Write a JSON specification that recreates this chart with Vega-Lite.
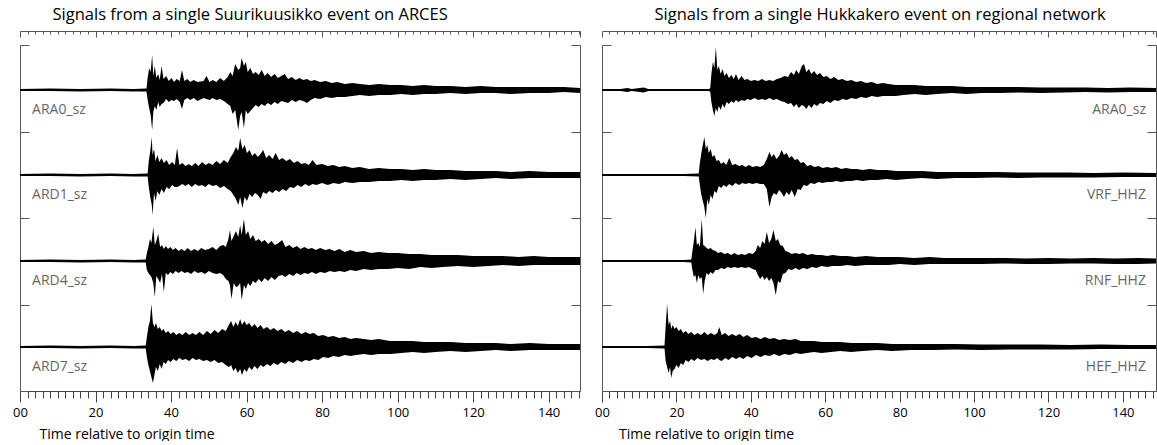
{
"$schema": "https://vega.github.io/schema/vega-lite/v6.json",
"padding": {"left": 12, "top": 7, "right": 0, "bottom": 0},
"background": "white",
"config": {"view": {"stroke": null}, "font": "Open Sans", "axis": {"grid": false}},
"spacing": 13,
"datasets": {
"labL": [{"n":"ARA0_sz","b":301},{"n":"ARD1_sz","b":216},{"n":"ARD4_sz","b":130},{"n":"ARD7_sz","b":44}],
"labR": [{"n":"ARA0_sz","b":301},{"n":"VRF_HHZ","b":216},{"n":"RNF_HHZ","b":130},{"n":"HEF_HHZ","b":44}],
"L": [
{"s":1,"t":0,"h":302,"l":300},{"s":1,"t":8,"h":302.5,"l":300},{"s":1,"t":16,"h":302,"l":299.5},{"s":1,"t":24,"h":302.5,"l":300},{"s":1,"t":30,"h":302,"l":299.5},{"s":1,"t":33.5,"h":302.5,"l":299.5},
{"s":1,"t":33.8,"h":313,"l":291},{"s":1,"t":34.2,"h":323,"l":283},{"s":1,"t":34.6,"h":319,"l":276},{"s":1,"t":35.0,"h":336,"l":261},{"s":1,"t":35.3,"h":315,"l":279},{"s":1,"t":35.7,"h":325,"l":285},{"s":1,"t":36.1,"h":313,"l":281},{"s":1,"t":36.6,"h":317,"l":289},{"s":1,"t":37.0,"h":311,"l":284},{"s":1,"t":37.5,"h":325,"l":287},{"s":1,"t":38.0,"h":312,"l":288},{"s":1,"t":38.7,"h":315,"l":292},{"s":1,"t":39.4,"h":310,"l":289},{"s":1,"t":40.1,"h":313,"l":291},{"s":1,"t":40.8,"h":309,"l":290},{"s":1,"t":41.5,"h":312,"l":292},{"s":1,"t":42.3,"h":310,"l":289},{"s":1,"t":42.9,"h":321,"l":282},{"s":1,"t":43.5,"h":310,"l":291},{"s":1,"t":44.3,"h":312,"l":293},{"s":1,"t":45.1,"h":309,"l":291},{"s":1,"t":46.0,"h":311,"l":293},{"s":1,"t":47.0,"h":309,"l":290},{"s":1,"t":48.6,"h":310,"l":293},{"s":1,"t":49.4,"h":315,"l":292},{"s":1,"t":50.2,"h":309,"l":291},{"s":1,"t":51.0,"h":311,"l":293},{"s":1,"t":52.0,"h":309,"l":291},{"s":1,"t":53.0,"h":313,"l":292},{"s":1,"t":54.0,"h":310,"l":290},{"s":1,"t":55.0,"h":314,"l":287},{"s":1,"t":55.7,"h":319,"l":285},{"s":1,"t":56.3,"h":315,"l":277},{"s":1,"t":57.0,"h":327,"l":281},{"s":1,"t":57.8,"h":321,"l":261},{"s":1,"t":58.3,"h":323,"l":275},{"s":1,"t":58.7,"h":333,"l":279},{"s":1,"t":59.3,"h":325,"l":263},{"s":1,"t":59.8,"h":329,"l":281},{"s":1,"t":60.3,"h":319,"l":277},{"s":1,"t":61.0,"h":323,"l":280},{"s":1,"t":61.7,"h":317,"l":283},{"s":1,"t":62.4,"h":319,"l":286},{"s":1,"t":63.2,"h":316,"l":284},{"s":1,"t":64.0,"h":321,"l":287},{"s":1,"t":64.8,"h":315,"l":285},{"s":1,"t":65.6,"h":318,"l":288},{"s":1,"t":66.5,"h":314,"l":286},{"s":1,"t":67.4,"h":317,"l":289},{"s":1,"t":68.3,"h":313,"l":287},{"s":1,"t":69.2,"h":315,"l":290},{"s":1,"t":70.1,"h":317,"l":289},{"s":1,"t":71.0,"h":312,"l":288},{"s":1,"t":72.0,"h":314,"l":291},{"s":1,"t":73.0,"h":311,"l":289},{"s":1,"t":74.0,"h":313,"l":291},{"s":1,"t":75.0,"h":311,"l":290},{"s":1,"t":76.0,"h":312,"l":288},{"s":1,"t":77.0,"h":310,"l":291},{"s":1,"t":78.0,"h":311,"l":293},{"s":1,"t":79.5,"h":309,"l":292},{"s":1,"t":81.0,"h":310,"l":294},{"s":1,"t":82.5,"h":308,"l":293},{"s":1,"t":84.0,"h":309,"l":294},{"s":1,"t":86.0,"h":307,"l":294},{"s":1,"t":88.0,"h":308,"l":295},{"s":1,"t":90.0,"h":307,"l":296},{"s":1,"t":92.5,"h":306,"l":295},{"s":1,"t":95.0,"h":307,"l":296},{"s":1,"t":98.0,"h":306,"l":296},{"s":1,"t":101,"h":306,"l":297},{"s":1,"t":104,"h":305,"l":296},{"s":1,"t":107,"h":306,"l":297},{"s":1,"t":110,"h":305,"l":297},{"s":1,"t":114,"h":305,"l":298},{"s":1,"t":118,"h":304,"l":297},{"s":1,"t":122,"h":305,"l":298},{"s":1,"t":126,"h":304,"l":298},{"s":1,"t":130,"h":304,"l":297},{"s":1,"t":135,"h":304,"l":298},{"s":1,"t":140,"h":304,"l":298},{"s":1,"t":144,"h":304,"l":299},{"s":1,"t":148.3,"h":303,"l":298},
{"s":2,"t":0,"h":217,"l":215},{"s":2,"t":8,"h":217.5,"l":215},{"s":2,"t":16,"h":217,"l":214.5},{"s":2,"t":24,"h":217.5,"l":215},{"s":2,"t":30,"h":217,"l":214.5},{"s":2,"t":33.8,"h":217.5,"l":214.5},
{"s":2,"t":34.1,"h":230,"l":204},{"s":2,"t":34.5,"h":240,"l":194},{"s":2,"t":34.9,"h":254,"l":186},{"s":2,"t":35.1,"h":236,"l":176},{"s":2,"t":35.5,"h":242,"l":198},{"s":2,"t":35.9,"h":230,"l":190},{"s":2,"t":36.4,"h":236,"l":200},{"s":2,"t":36.9,"h":229,"l":196},{"s":2,"t":37.5,"h":233,"l":202},{"s":2,"t":38.1,"h":228,"l":198},{"s":2,"t":38.8,"h":231,"l":204},{"s":2,"t":39.5,"h":226,"l":202},{"s":2,"t":40.3,"h":229,"l":206},{"s":2,"t":41.0,"h":226,"l":204},{"s":2,"t":41.6,"h":243,"l":204},{"s":2,"t":42.2,"h":226,"l":205},{"s":2,"t":43.0,"h":228,"l":207},{"s":2,"t":43.8,"h":225,"l":205},{"s":2,"t":44.6,"h":227,"l":207},{"s":2,"t":45.5,"h":225,"l":204},{"s":2,"t":46.4,"h":228,"l":207},{"s":2,"t":47.3,"h":225,"l":205},{"s":2,"t":48.2,"h":229,"l":206},{"s":2,"t":49.1,"h":226,"l":204},{"s":2,"t":50.0,"h":228,"l":207},{"s":2,"t":51.0,"h":226,"l":205},{"s":2,"t":52.0,"h":230,"l":206},{"s":2,"t":53.0,"h":227,"l":203},{"s":2,"t":54.0,"h":231,"l":205},{"s":2,"t":55.0,"h":228,"l":202},{"s":2,"t":55.8,"h":234,"l":200},{"s":2,"t":56.5,"h":238,"l":196},{"s":2,"t":57.2,"h":244,"l":192},{"s":2,"t":57.8,"h":240,"l":186},{"s":2,"t":58.3,"h":253,"l":194},{"s":2,"t":58.9,"h":242,"l":183},{"s":2,"t":59.5,"h":246,"l":194},{"s":2,"t":60.1,"h":238,"l":190},{"s":2,"t":60.8,"h":241,"l":197},{"s":2,"t":61.5,"h":235,"l":194},{"s":2,"t":62.2,"h":238,"l":198},{"s":2,"t":63.0,"h":234,"l":196},{"s":2,"t":63.7,"h":237,"l":192},{"s":2,"t":64.4,"h":241,"l":199},{"s":2,"t":65.2,"h":233,"l":197},{"s":2,"t":66.0,"h":236,"l":200},{"s":2,"t":66.9,"h":232,"l":198},{"s":2,"t":67.7,"h":238,"l":201},{"s":2,"t":68.6,"h":231,"l":199},{"s":2,"t":69.5,"h":233,"l":202},{"s":2,"t":70.5,"h":230,"l":200},{"s":2,"t":71.5,"h":232,"l":204},{"s":2,"t":72.5,"h":228,"l":203},{"s":2,"t":73.5,"h":230,"l":206},{"s":2,"t":74.5,"h":227,"l":204},{"s":2,"t":75.5,"h":228,"l":207},{"s":2,"t":76.5,"h":226,"l":205},{"s":2,"t":77.5,"h":231,"l":207},{"s":2,"t":78.5,"h":226,"l":206},{"s":2,"t":80.0,"h":227,"l":208},{"s":2,"t":81.5,"h":225,"l":206},{"s":2,"t":83.0,"h":226,"l":208},{"s":2,"t":84.5,"h":224,"l":207},{"s":2,"t":86.0,"h":225,"l":209},{"s":2,"t":88.0,"h":223,"l":208},{"s":2,"t":90.0,"h":224,"l":209},{"s":2,"t":92.5,"h":222,"l":209},{"s":2,"t":95.0,"h":223,"l":210},{"s":2,"t":98.0,"h":222,"l":210},{"s":2,"t":101,"h":222,"l":211},{"s":2,"t":104,"h":221,"l":210},{"s":2,"t":107,"h":222,"l":211},{"s":2,"t":110,"h":221,"l":211},{"s":2,"t":114,"h":221,"l":212},{"s":2,"t":118,"h":220,"l":211},{"s":2,"t":122,"h":220,"l":212},{"s":2,"t":126,"h":220,"l":213},{"s":2,"t":130,"h":219,"l":212},{"s":2,"t":135,"h":220,"l":213},{"s":2,"t":140,"h":219,"l":213},{"s":2,"t":144,"h":219,"l":213},{"s":2,"t":148.3,"h":219,"l":213},
{"s":3,"t":0,"h":131,"l":129},{"s":3,"t":8,"h":131.5,"l":129},{"s":3,"t":16,"h":131,"l":128.5},{"s":3,"t":24,"h":131.5,"l":129},{"s":3,"t":30,"h":131,"l":128.5},{"s":3,"t":33.3,"h":131.5,"l":128.5},
{"s":3,"t":33.6,"h":138,"l":121},{"s":3,"t":34.0,"h":144,"l":118},{"s":3,"t":34.4,"h":152,"l":116},{"s":3,"t":34.8,"h":148,"l":114},{"s":3,"t":35.3,"h":164,"l":108},{"s":3,"t":35.7,"h":146,"l":94},{"s":3,"t":36.1,"h":150,"l":115},{"s":3,"t":36.6,"h":157,"l":112},{"s":3,"t":37.1,"h":144,"l":108},{"s":3,"t":37.6,"h":146,"l":117},{"s":3,"t":38.1,"h":142,"l":99},{"s":3,"t":38.6,"h":145,"l":118},{"s":3,"t":39.2,"h":142,"l":116},{"s":3,"t":39.8,"h":144,"l":119},{"s":3,"t":40.5,"h":141,"l":117},{"s":3,"t":41.2,"h":143,"l":120},{"s":3,"t":42.0,"h":140,"l":118},{"s":3,"t":42.8,"h":142,"l":120},{"s":3,"t":43.6,"h":140,"l":118},{"s":3,"t":44.4,"h":143,"l":119},{"s":3,"t":45.3,"h":140,"l":117},{"s":3,"t":46.2,"h":142,"l":120},{"s":3,"t":47.1,"h":140,"l":118},{"s":3,"t":48.0,"h":143,"l":119},{"s":3,"t":49.0,"h":141,"l":117},{"s":3,"t":50.0,"h":142,"l":120},{"s":3,"t":51.0,"h":144,"l":118},{"s":3,"t":52.0,"h":141,"l":117},{"s":3,"t":53.0,"h":145,"l":118},{"s":3,"t":53.8,"h":146,"l":116},{"s":3,"t":54.5,"h":144,"l":112},{"s":3,"t":55.2,"h":152,"l":110},{"s":3,"t":55.6,"h":161,"l":106},{"s":3,"t":56.0,"h":150,"l":92},{"s":3,"t":56.6,"h":155,"l":108},{"s":3,"t":57.2,"h":160,"l":104},{"s":3,"t":57.8,"h":154,"l":105},{"s":3,"t":58.3,"h":166,"l":108},{"s":3,"t":58.7,"h":156,"l":91},{"s":3,"t":59.3,"h":172,"l":106},{"s":3,"t":59.8,"h":156,"l":102},{"s":3,"t":60.4,"h":160,"l":108},{"s":3,"t":61.0,"h":152,"l":105},{"s":3,"t":61.7,"h":156,"l":110},{"s":3,"t":62.4,"h":150,"l":108},{"s":3,"t":63.2,"h":152,"l":112},{"s":3,"t":64.0,"h":149,"l":109},{"s":3,"t":64.8,"h":151,"l":113},{"s":3,"t":65.7,"h":147,"l":110},{"s":3,"t":66.6,"h":150,"l":114},{"s":3,"t":67.5,"h":146,"l":111},{"s":3,"t":68.5,"h":148,"l":115},{"s":3,"t":69.4,"h":151,"l":116},{"s":3,"t":70.3,"h":144,"l":114},{"s":3,"t":71.3,"h":146,"l":117},{"s":3,"t":72.3,"h":143,"l":115},{"s":3,"t":73.3,"h":145,"l":118},{"s":3,"t":74.3,"h":142,"l":116},{"s":3,"t":75.3,"h":144,"l":118},{"s":3,"t":76.3,"h":142,"l":117},{"s":3,"t":77.3,"h":143,"l":119},{"s":3,"t":78.3,"h":141,"l":117},{"s":3,"t":79.5,"h":143,"l":119},{"s":3,"t":80.8,"h":141,"l":118},{"s":3,"t":82.0,"h":142,"l":120},{"s":3,"t":83.3,"h":140,"l":119},{"s":3,"t":84.6,"h":142,"l":120},{"s":3,"t":86.0,"h":139,"l":119},{"s":3,"t":87.5,"h":141,"l":121},{"s":3,"t":89.0,"h":139,"l":120},{"s":3,"t":91.0,"h":140,"l":122},{"s":3,"t":93.0,"h":138,"l":121},{"s":3,"t":95.0,"h":139,"l":122},{"s":3,"t":97.5,"h":138,"l":122},{"s":3,"t":100,"h":138,"l":123},{"s":3,"t":103,"h":137,"l":122},{"s":3,"t":106,"h":137,"l":124},{"s":3,"t":109,"h":136,"l":123},{"s":3,"t":112,"h":136,"l":124},{"s":3,"t":116,"h":136,"l":125},{"s":3,"t":120,"h":135,"l":124},{"s":3,"t":124,"h":135,"l":125},{"s":3,"t":128,"h":135,"l":126},{"s":3,"t":132,"h":134,"l":125},{"s":3,"t":136,"h":135,"l":126},{"s":3,"t":140,"h":134,"l":126},{"s":3,"t":144,"h":134,"l":126},{"s":3,"t":148.3,"h":134,"l":126},
{"s":4,"t":0,"h":45,"l":43},{"s":4,"t":8,"h":45.5,"l":43},{"s":4,"t":16,"h":45,"l":42.5},{"s":4,"t":24,"h":45.5,"l":43},{"s":4,"t":30,"h":45,"l":42.5},{"s":4,"t":33.3,"h":45.5,"l":42.5},
{"s":4,"t":33.6,"h":54,"l":34},{"s":4,"t":34.0,"h":64,"l":26},{"s":4,"t":34.4,"h":70,"l":20},{"s":4,"t":34.8,"h":87,"l":14},{"s":4,"t":35.2,"h":68,"l":8},{"s":4,"t":35.6,"h":64,"l":16},{"s":4,"t":36.0,"h":68,"l":24},{"s":4,"t":36.5,"h":62,"l":20},{"s":4,"t":37.0,"h":64,"l":27},{"s":4,"t":37.5,"h":60,"l":22},{"s":4,"t":38.0,"h":62,"l":29},{"s":4,"t":38.6,"h":58,"l":27},{"s":4,"t":39.2,"h":60,"l":31},{"s":4,"t":39.9,"h":57,"l":29},{"s":4,"t":40.6,"h":59,"l":32},{"s":4,"t":41.4,"h":56,"l":30},{"s":4,"t":42.2,"h":58,"l":33},{"s":4,"t":43.0,"h":56,"l":31},{"s":4,"t":43.9,"h":59,"l":32},{"s":4,"t":44.8,"h":56,"l":30},{"s":4,"t":45.7,"h":58,"l":33},{"s":4,"t":46.6,"h":56,"l":31},{"s":4,"t":47.5,"h":59,"l":32},{"s":4,"t":48.5,"h":56,"l":30},{"s":4,"t":49.5,"h":60,"l":31},{"s":4,"t":50.5,"h":57,"l":29},{"s":4,"t":51.5,"h":61,"l":31},{"s":4,"t":52.5,"h":58,"l":28},{"s":4,"t":53.5,"h":62,"l":29},{"s":4,"t":54.5,"h":60,"l":26},{"s":4,"t":55.3,"h":66,"l":24},{"s":4,"t":55.9,"h":70,"l":26},{"s":4,"t":56.5,"h":64,"l":20},{"s":4,"t":57.1,"h":69,"l":23},{"s":4,"t":57.7,"h":65,"l":18},{"s":4,"t":58.3,"h":72,"l":22},{"s":4,"t":58.8,"h":66,"l":16},{"s":4,"t":59.4,"h":70,"l":22},{"s":4,"t":60.0,"h":66,"l":19},{"s":4,"t":60.7,"h":68,"l":24},{"s":4,"t":61.4,"h":64,"l":21},{"s":4,"t":62.1,"h":67,"l":25},{"s":4,"t":62.9,"h":63,"l":22},{"s":4,"t":63.7,"h":66,"l":26},{"s":4,"t":64.5,"h":62,"l":24},{"s":4,"t":65.4,"h":64,"l":27},{"s":4,"t":66.3,"h":61,"l":25},{"s":4,"t":67.2,"h":63,"l":28},{"s":4,"t":68.2,"h":60,"l":26},{"s":4,"t":69.2,"h":62,"l":29},{"s":4,"t":70.2,"h":59,"l":27},{"s":4,"t":71.2,"h":61,"l":30},{"s":4,"t":72.3,"h":58,"l":28},{"s":4,"t":73.4,"h":60,"l":31},{"s":4,"t":74.5,"h":57,"l":29},{"s":4,"t":75.6,"h":59,"l":31},{"s":4,"t":76.7,"h":57,"l":30},{"s":4,"t":77.8,"h":58,"l":32},{"s":4,"t":79.0,"h":55,"l":31},{"s":4,"t":80.3,"h":56,"l":34},{"s":4,"t":81.6,"h":54,"l":33},{"s":4,"t":83.0,"h":55,"l":35},{"s":4,"t":84.5,"h":53,"l":34},{"s":4,"t":86.0,"h":54,"l":36},{"s":4,"t":87.5,"h":52,"l":35},{"s":4,"t":89.0,"h":53,"l":36},{"s":4,"t":91.0,"h":52,"l":37},{"s":4,"t":93.0,"h":51,"l":36},{"s":4,"t":95.0,"h":52,"l":37},{"s":4,"t":98.0,"h":50,"l":37},{"s":4,"t":101,"h":50,"l":38},{"s":4,"t":104,"h":50,"l":39},{"s":4,"t":107,"h":49,"l":38},{"s":4,"t":110,"h":49,"l":39},{"s":4,"t":114,"h":49,"l":40},{"s":4,"t":118,"h":48,"l":39},{"s":4,"t":122,"h":48,"l":40},{"s":4,"t":126,"h":48,"l":41},{"s":4,"t":130,"h":47,"l":40},{"s":4,"t":135,"h":48,"l":41},{"s":4,"t":140,"h":47,"l":41},{"s":4,"t":144,"h":47,"l":41},{"s":4,"t":148.3,"h":47,"l":41}
],
"R": [
{"s":1,"t":0,"h":302,"l":300},{"s":1,"t":5,"h":302,"l":300},{"s":1,"t":6.8,"h":303,"l":299},{"s":1,"t":8,"h":302,"l":300},{"s":1,"t":11.2,"h":303.5,"l":298.5},{"s":1,"t":12.5,"h":302,"l":300},{"s":1,"t":18,"h":302,"l":300},{"s":1,"t":24,"h":302,"l":300},{"s":1,"t":28.8,"h":302,"l":300},
{"s":1,"t":29.1,"h":303,"l":299},{"s":1,"t":29.4,"h":317,"l":289},{"s":1,"t":29.8,"h":329,"l":281},{"s":1,"t":30.2,"h":323,"l":275},{"s":1,"t":30.6,"h":344,"l":283},{"s":1,"t":31.0,"h":321,"l":279},{"s":1,"t":31.4,"h":325,"l":285},{"s":1,"t":31.9,"h":317,"l":281},{"s":1,"t":32.4,"h":322,"l":287},{"s":1,"t":32.9,"h":315,"l":283},{"s":1,"t":33.5,"h":318,"l":289},{"s":1,"t":34.1,"h":313,"l":287},{"s":1,"t":34.8,"h":316,"l":290},{"s":1,"t":35.4,"h":312,"l":288},{"s":1,"t":36.0,"h":317,"l":291},{"s":1,"t":36.7,"h":311,"l":289},{"s":1,"t":37.5,"h":315,"l":291},{"s":1,"t":38.3,"h":311,"l":290},{"s":1,"t":39.1,"h":312,"l":292},{"s":1,"t":40.0,"h":310,"l":291},{"s":1,"t":41.0,"h":311,"l":293},{"s":1,"t":42.0,"h":310,"l":291},{"s":1,"t":43.0,"h":312,"l":292},{"s":1,"t":44.0,"h":310,"l":291},{"s":1,"t":45.0,"h":311,"l":293},{"s":1,"t":46.0,"h":310,"l":291},{"s":1,"t":47.0,"h":312,"l":292},{"s":1,"t":48.0,"h":313,"l":290},{"s":1,"t":49.0,"h":315,"l":289},{"s":1,"t":50.0,"h":314,"l":287},{"s":1,"t":50.8,"h":319,"l":288},{"s":1,"t":51.6,"h":316,"l":284},{"s":1,"t":52.2,"h":321,"l":287},{"s":1,"t":52.9,"h":317,"l":283},{"s":1,"t":53.7,"h":325,"l":286},{"s":1,"t":54.3,"h":327,"l":285},{"s":1,"t":54.9,"h":319,"l":282},{"s":1,"t":55.6,"h":322,"l":286},{"s":1,"t":56.3,"h":317,"l":283},{"s":1,"t":57.0,"h":320,"l":287},{"s":1,"t":57.8,"h":316,"l":285},{"s":1,"t":58.6,"h":318,"l":288},{"s":1,"t":59.5,"h":314,"l":287},{"s":1,"t":60.4,"h":315,"l":290},{"s":1,"t":61.4,"h":312,"l":288},{"s":1,"t":62.4,"h":314,"l":291},{"s":1,"t":63.5,"h":311,"l":290},{"s":1,"t":64.6,"h":312,"l":292},{"s":1,"t":65.8,"h":310,"l":291},{"s":1,"t":67.0,"h":311,"l":293},{"s":1,"t":68.3,"h":309,"l":292},{"s":1,"t":69.6,"h":310,"l":294},{"s":1,"t":71.0,"h":308,"l":293},{"s":1,"t":72.5,"h":309,"l":295},{"s":1,"t":74.0,"h":307,"l":294},{"s":1,"t":75.5,"h":308,"l":295},{"s":1,"t":77.0,"h":307,"l":295},{"s":1,"t":79.0,"h":306,"l":295},{"s":1,"t":81.0,"h":306,"l":296},{"s":1,"t":84.0,"h":306,"l":297},{"s":1,"t":87.0,"h":305,"l":296},{"s":1,"t":90.0,"h":305,"l":297},{"s":1,"t":94,"h":305,"l":298},{"s":1,"t":98,"h":304,"l":297},{"s":1,"t":102,"h":304,"l":298},{"s":1,"t":107,"h":304,"l":298},{"s":1,"t":112,"h":304,"l":298.5},{"s":1,"t":118,"h":303.5,"l":298},{"s":1,"t":124,"h":303.5,"l":298.5},{"s":1,"t":130,"h":303.5,"l":299},{"s":1,"t":136,"h":303,"l":298.5},{"s":1,"t":142,"h":303.5,"l":299},{"s":1,"t":148.9,"h":303,"l":299},
{"s":2,"t":0,"h":217,"l":215},{"s":2,"t":8,"h":217,"l":215},{"s":2,"t":16,"h":217,"l":215},{"s":2,"t":22,"h":217,"l":215},{"s":2,"t":26.0,"h":217.5,"l":214.5},
{"s":2,"t":26.3,"h":228,"l":206},{"s":2,"t":26.7,"h":238,"l":196},{"s":2,"t":27.1,"h":246,"l":190},{"s":2,"t":27.5,"h":254,"l":184},{"s":2,"t":27.9,"h":242,"l":173},{"s":2,"t":28.3,"h":246,"l":192},{"s":2,"t":28.7,"h":238,"l":186},{"s":2,"t":29.2,"h":242,"l":196},{"s":2,"t":29.7,"h":234,"l":192},{"s":2,"t":30.2,"h":236,"l":200},{"s":2,"t":30.8,"h":230,"l":198},{"s":2,"t":31.4,"h":231,"l":205},{"s":2,"t":32.0,"h":227,"l":203},{"s":2,"t":32.7,"h":229,"l":206},{"s":2,"t":33.4,"h":226,"l":204},{"s":2,"t":34.2,"h":233,"l":207},{"s":2,"t":35.0,"h":226,"l":205},{"s":2,"t":35.9,"h":227,"l":208},{"s":2,"t":36.8,"h":225,"l":206},{"s":2,"t":37.7,"h":226,"l":208},{"s":2,"t":38.6,"h":224,"l":207},{"s":2,"t":39.5,"h":226,"l":208},{"s":2,"t":40.5,"h":224,"l":207},{"s":2,"t":41.5,"h":225,"l":208},{"s":2,"t":42.5,"h":224,"l":207},{"s":2,"t":43.5,"h":226,"l":207},{"s":2,"t":44.3,"h":232,"l":202},{"s":2,"t":45.0,"h":239,"l":184},{"s":2,"t":45.6,"h":234,"l":194},{"s":2,"t":46.2,"h":237,"l":198},{"s":2,"t":46.9,"h":232,"l":196},{"s":2,"t":47.6,"h":235,"l":201},{"s":2,"t":48.3,"h":241,"l":198},{"s":2,"t":48.9,"h":236,"l":194},{"s":2,"t":49.6,"h":238,"l":199},{"s":2,"t":50.3,"h":233,"l":196},{"s":2,"t":51.0,"h":235,"l":201},{"s":2,"t":51.8,"h":231,"l":194},{"s":2,"t":52.6,"h":232,"l":202},{"s":2,"t":53.4,"h":228,"l":201},{"s":2,"t":54.2,"h":229,"l":206},{"s":2,"t":55.1,"h":225,"l":205},{"s":2,"t":56.1,"h":226,"l":208},{"s":2,"t":57.1,"h":224,"l":207},{"s":2,"t":58.2,"h":225,"l":209},{"s":2,"t":59.3,"h":223,"l":208},{"s":2,"t":60.5,"h":224,"l":209},{"s":2,"t":61.7,"h":223,"l":209},{"s":2,"t":63.0,"h":224,"l":210},{"s":2,"t":64.3,"h":222,"l":209},{"s":2,"t":65.6,"h":223,"l":210},{"s":2,"t":67.0,"h":222,"l":210},{"s":2,"t":68.5,"h":222,"l":211},{"s":2,"t":70.0,"h":221,"l":210},{"s":2,"t":72.0,"h":222,"l":211},{"s":2,"t":74.0,"h":221,"l":211},{"s":2,"t":76.5,"h":221,"l":212},{"s":2,"t":79.0,"h":220,"l":211},{"s":2,"t":82.0,"h":220,"l":212},{"s":2,"t":86,"h":220,"l":213},{"s":2,"t":90,"h":219,"l":212},{"s":2,"t":95,"h":219,"l":213},{"s":2,"t":100,"h":219,"l":213},{"s":2,"t":106,"h":219,"l":213.5},{"s":2,"t":112,"h":218.5,"l":213},{"s":2,"t":118,"h":218.5,"l":213.5},{"s":2,"t":125,"h":218.5,"l":213.5},{"s":2,"t":132,"h":218,"l":213.5},{"s":2,"t":140,"h":218.5,"l":214},{"s":2,"t":148.9,"h":218,"l":214},
{"s":3,"t":0,"h":131,"l":129},{"s":3,"t":8,"h":131,"l":129},{"s":3,"t":16,"h":131,"l":129},{"s":3,"t":22,"h":131,"l":129},{"s":3,"t":24.0,"h":131.5,"l":128.5},
{"s":3,"t":24.3,"h":140,"l":121},{"s":3,"t":24.7,"h":150,"l":114},{"s":3,"t":25.1,"h":164,"l":116},{"s":3,"t":25.5,"h":146,"l":108},{"s":3,"t":25.9,"h":148,"l":116},{"s":3,"t":26.3,"h":144,"l":112},{"s":3,"t":26.8,"h":172,"l":114},{"s":3,"t":27.2,"h":146,"l":97},{"s":3,"t":27.6,"h":145,"l":110},{"s":3,"t":28.1,"h":143,"l":118},{"s":3,"t":28.6,"h":142,"l":116},{"s":3,"t":29.2,"h":143,"l":119},{"s":3,"t":29.8,"h":141,"l":117},{"s":3,"t":30.5,"h":140,"l":121},{"s":3,"t":31.2,"h":138,"l":121},{"s":3,"t":32.0,"h":139,"l":123},{"s":3,"t":32.9,"h":137,"l":122},{"s":3,"t":33.8,"h":138,"l":124},{"s":3,"t":34.7,"h":136,"l":123},{"s":3,"t":35.6,"h":138,"l":124},{"s":3,"t":36.5,"h":136,"l":123},{"s":3,"t":37.5,"h":137,"l":124},{"s":3,"t":38.5,"h":136,"l":123},{"s":3,"t":39.5,"h":138,"l":124},{"s":3,"t":40.5,"h":137,"l":122},{"s":3,"t":41.3,"h":140,"l":121},{"s":3,"t":41.9,"h":146,"l":116},{"s":3,"t":42.5,"h":143,"l":112},{"s":3,"t":43.1,"h":150,"l":115},{"s":3,"t":43.7,"h":147,"l":111},{"s":3,"t":44.3,"h":159,"l":114},{"s":3,"t":44.9,"h":148,"l":110},{"s":3,"t":45.5,"h":152,"l":113},{"s":3,"t":46.1,"h":161,"l":108},{"s":3,"t":46.7,"h":150,"l":96},{"s":3,"t":47.3,"h":152,"l":110},{"s":3,"t":47.9,"h":146,"l":108},{"s":3,"t":48.6,"h":145,"l":117},{"s":3,"t":49.3,"h":140,"l":118},{"s":3,"t":50.1,"h":139,"l":122},{"s":3,"t":51.0,"h":137,"l":121},{"s":3,"t":52.0,"h":138,"l":123},{"s":3,"t":53.0,"h":137,"l":121},{"s":3,"t":54.0,"h":138,"l":123},{"s":3,"t":55.2,"h":136,"l":122},{"s":3,"t":56.4,"h":137,"l":124},{"s":3,"t":57.6,"h":136,"l":123},{"s":3,"t":59.0,"h":136,"l":125},{"s":3,"t":60.5,"h":135,"l":124},{"s":3,"t":62.0,"h":136,"l":125},{"s":3,"t":64.0,"h":135,"l":125},{"s":3,"t":66.0,"h":135,"l":126},{"s":3,"t":68.0,"h":134,"l":125},{"s":3,"t":71.0,"h":135,"l":126},{"s":3,"t":74.0,"h":134,"l":126},{"s":3,"t":77.0,"h":134,"l":126},{"s":3,"t":80.0,"h":134,"l":127},{"s":3,"t":84,"h":133,"l":126},{"s":3,"t":88,"h":134,"l":127},{"s":3,"t":92,"h":133,"l":127},{"s":3,"t":97,"h":133,"l":127},{"s":3,"t":102,"h":133,"l":127},{"s":3,"t":108,"h":133,"l":127.5},{"s":3,"t":114,"h":132.5,"l":127},{"s":3,"t":120,"h":133,"l":127},{"s":3,"t":126,"h":132.5,"l":127.5},{"s":3,"t":132,"h":133,"l":127.5},{"s":3,"t":138,"h":132.5,"l":127},{"s":3,"t":144,"h":133,"l":127},{"s":3,"t":148.9,"h":132.5,"l":127.5},
{"s":4,"t":0,"h":45,"l":43},{"s":4,"t":6,"h":45,"l":43},{"s":4,"t":12,"h":45,"l":43},{"s":4,"t":16.8,"h":45.5,"l":42.5},
{"s":4,"t":17.1,"h":64,"l":30},{"s":4,"t":17.5,"h":87,"l":24},{"s":4,"t":17.9,"h":66,"l":18},{"s":4,"t":18.3,"h":70,"l":24},{"s":4,"t":18.6,"h":62,"l":13},{"s":4,"t":19.0,"h":66,"l":20},{"s":4,"t":19.5,"h":62,"l":22},{"s":4,"t":20.0,"h":64,"l":26},{"s":4,"t":20.6,"h":60,"l":23},{"s":4,"t":21.2,"h":62,"l":28},{"s":4,"t":21.8,"h":58,"l":26},{"s":4,"t":22.5,"h":60,"l":31},{"s":4,"t":23.2,"h":57,"l":29},{"s":4,"t":24.0,"h":59,"l":32},{"s":4,"t":24.8,"h":56,"l":30},{"s":4,"t":25.7,"h":58,"l":33},{"s":4,"t":26.6,"h":56,"l":31},{"s":4,"t":27.5,"h":59,"l":32},{"s":4,"t":28.4,"h":56,"l":30},{"s":4,"t":29.3,"h":58,"l":32},{"s":4,"t":30.2,"h":56,"l":31},{"s":4,"t":31.0,"h":58,"l":33},{"s":4,"t":31.5,"h":64,"l":31},{"s":4,"t":32.2,"h":56,"l":30},{"s":4,"t":33.1,"h":58,"l":33},{"s":4,"t":34.0,"h":55,"l":31},{"s":4,"t":35.0,"h":57,"l":34},{"s":4,"t":36.0,"h":55,"l":32},{"s":4,"t":37.0,"h":57,"l":34},{"s":4,"t":38.0,"h":54,"l":32},{"s":4,"t":39.0,"h":56,"l":35},{"s":4,"t":40.2,"h":53,"l":33},{"s":4,"t":41.4,"h":54,"l":36},{"s":4,"t":42.6,"h":52,"l":34},{"s":4,"t":43.8,"h":54,"l":36},{"s":4,"t":45.0,"h":52,"l":35},{"s":4,"t":46.3,"h":53,"l":37},{"s":4,"t":47.6,"h":51,"l":35},{"s":4,"t":49.0,"h":52,"l":37},{"s":4,"t":50.5,"h":51,"l":36},{"s":4,"t":52.0,"h":52,"l":38},{"s":4,"t":53.5,"h":50,"l":37},{"s":4,"t":55.0,"h":50,"l":38},{"s":4,"t":57.0,"h":50,"l":39},{"s":4,"t":59.0,"h":49,"l":38},{"s":4,"t":61.5,"h":49,"l":39},{"s":4,"t":64.0,"h":49,"l":40},{"s":4,"t":67.0,"h":48,"l":39},{"s":4,"t":70.0,"h":48,"l":40},{"s":4,"t":74.0,"h":48,"l":41},{"s":4,"t":78.0,"h":47,"l":40},{"s":4,"t":83,"h":47,"l":41},{"s":4,"t":89,"h":47,"l":41},{"s":4,"t":95,"h":47,"l":41.5},{"s":4,"t":102,"h":46.5,"l":41},{"s":4,"t":110,"h":46.5,"l":41.5},{"s":4,"t":118,"h":46.5,"l":41.5},{"s":4,"t":126,"h":46,"l":41.5},{"s":4,"t":134,"h":46.5,"l":42},{"s":4,"t":142,"h":46,"l":42},{"s":4,"t":148.9,"h":46,"l":42}
]
},
"hconcat": [
{
"width": 560, "height": 346,
"title": {"text": "Signals from a single Suurikuusikko event on ARCES", "anchor": "start", "dx": 40, "fontSize": 16.5, "fontWeight": "normal", "font": "Open Sans", "color": "#000", "offset": 7},
"layer": [
{
"data": {"name": "L"},
"mark": {"type": "area", "color": "#000", "strokeWidth": 0},
"encoding": {
"x": {"field": "t", "type": "quantitative", "scale": {"domain": [0, 148.3], "nice": false, "zero": false},
 "axis": {"orient": "bottom", "values": [0,2,4,6,8,10,12,14,16,18,20,22,24,26,28,30,32,34,36,38,40,42,44,46,48,50,52,54,56,58,60,62,64,66,68,70,72,74,76,78,80,82,84,86,88,90,92,94,96,98,100,102,104,106,108,110,112,114,116,118,120,122,124,126,128,130,132,134,136,138,140,142,144,146,148],
  "labelExpr": "datum.value % 20 === 0 ? (datum.value === 0 ? '00' : datum.label) : ''",
  "tickSize": {"condition": {"test": "datum.value % 20 === 0", "value": 11}, "value": 7},
  "tickColor": "#444", "domainColor": "#444", "labelFontSize": 13, "labelColor": "#000", "labelFlush": false, "labelOverlap": false, "labelPadding": 4,
  "title": "Time relative to origin time", "titleFontSize": 14, "titleFontWeight": "normal", "titleColor": "#000", "titleAnchor": "start", "titleAlign": "left", "titleX": 19, "titleY": 47, "titleBaseline": "alphabetic", "grid": false}},
"y": {"field": "h", "type": "quantitative", "scale": {"domain": [0, 346], "nice": false, "zero": false},
 "axis": {"orient": "left", "values": [0, 86.5, 173, 259.5, 346], "tickSize": -9, "labels": false, "title": null, "tickColor": "#555", "domainColor": "#555", "grid": false}},
"y2": {"field": "l"},
"detail": {"field": "s"}
}
},
{
"data": {"name": "labL"},
"mark": {"type": "text", "align": "left", "baseline": "alphabetic", "dy": 24, "fontSize": 14, "color": "#666"},
"encoding": {
"x": {"datum": 3.2, "type": "quantitative", "scale": {"domain": [0, 148.3], "nice": false, "zero": false},
 "axis": {"orient": "top", "offset": 14, "values": [0,2,4,6,8,10,12,14,16,18,20,22,24,26,28,30,32,34,36,38,40,42,44,46,48,50,52,54,56,58,60,62,64,66,68,70,72,74,76,78,80,82,84,86,88,90,92,94,96,98,100,102,104,106,108,110,112,114,116,118,120,122,124,126,128,130,132,134,136,138,140,142,144,146,148,148.3],
  "labels": false, "title": null, "tickSize": {"condition": {"test": "datum.value % 20 === 0 || datum.value > 148.1", "value": -6}, "value": -3}, "tickColor": "#555", "domainColor": "#555", "grid": false}},
"y": {"field": "b", "type": "quantitative", "scale": {"domain": [0, 346], "nice": false, "zero": false},
 "axis": {"orient": "right", "values": [0, 86.5, 173, 259.5, 346], "tickSize": -9, "labels": false, "title": null, "tickColor": "#555", "domainColor": "#555", "grid": false}},
"text": {"field": "n"}
}
}
],
"resolve": {"axis": {"x": "independent", "y": "independent"}}
},
{
"width": 554, "height": 346,
"title": {"text": "Signals from a single Hukkakero event on regional network", "anchor": "start", "dx": 60, "fontSize": 16.5, "fontWeight": "normal", "font": "Open Sans", "color": "#000", "offset": 7},
"layer": [
{
"data": {"name": "R"},
"mark": {"type": "area", "color": "#000", "strokeWidth": 0},
"encoding": {
"x": {"field": "t", "type": "quantitative", "scale": {"domain": [0, 148.9], "nice": false, "zero": false},
 "axis": {"orient": "bottom", "values": [0,2,4,6,8,10,12,14,16,18,20,22,24,26,28,30,32,34,36,38,40,42,44,46,48,50,52,54,56,58,60,62,64,66,68,70,72,74,76,78,80,82,84,86,88,90,92,94,96,98,100,102,104,106,108,110,112,114,116,118,120,122,124,126,128,130,132,134,136,138,140,142,144,146,148],
  "labelExpr": "datum.value % 20 === 0 ? (datum.value === 0 ? '00' : datum.label) : ''",
  "tickSize": {"condition": {"test": "datum.value % 20 === 0", "value": 11}, "value": 7},
  "tickColor": "#444", "domainColor": "#444", "labelFontSize": 13, "labelColor": "#000", "labelFlush": false, "labelOverlap": false, "labelPadding": 4,
  "title": "Time relative to origin time", "titleFontSize": 14, "titleFontWeight": "normal", "titleColor": "#000", "titleAnchor": "start", "titleAlign": "left", "titleX": 16.5, "titleY": 47, "titleBaseline": "alphabetic", "grid": false}},
"y": {"field": "h", "type": "quantitative", "scale": {"domain": [0, 346], "nice": false, "zero": false},
 "axis": {"orient": "left", "values": [0, 86.5, 173, 259.5, 346], "tickSize": -9, "labels": false, "title": null, "tickColor": "#555", "domainColor": "#555", "grid": false}},
"y2": {"field": "l"},
"detail": {"field": "s"}
}
},
{
"data": {"name": "labR"},
"mark": {"type": "text", "align": "right", "baseline": "alphabetic", "dy": 24, "fontSize": 14, "color": "#666"},
"encoding": {
"x": {"datum": 146.2, "type": "quantitative", "scale": {"domain": [0, 148.9], "nice": false, "zero": false},
 "axis": {"orient": "top", "offset": 14, "values": [0,2,4,6,8,10,12,14,16,18,20,22,24,26,28,30,32,34,36,38,40,42,44,46,48,50,52,54,56,58,60,62,64,66,68,70,72,74,76,78,80,82,84,86,88,90,92,94,96,98,100,102,104,106,108,110,112,114,116,118,120,122,124,126,128,130,132,134,136,138,140,142,144,146,148,148.9],
  "labels": false, "title": null, "tickSize": {"condition": {"test": "datum.value % 20 === 0 || datum.value > 148.1", "value": -6}, "value": -3}, "tickColor": "#555", "domainColor": "#555", "grid": false}},
"y": {"field": "b", "type": "quantitative", "scale": {"domain": [0, 346], "nice": false, "zero": false},
 "axis": {"orient": "right", "values": [0, 86.5, 173, 259.5, 346], "tickSize": -9, "labels": false, "title": null, "tickColor": "#555", "domainColor": "#555", "grid": false}},
"text": {"field": "n"}
}
}
],
"resolve": {"axis": {"x": "independent", "y": "independent"}}
}
]
}
